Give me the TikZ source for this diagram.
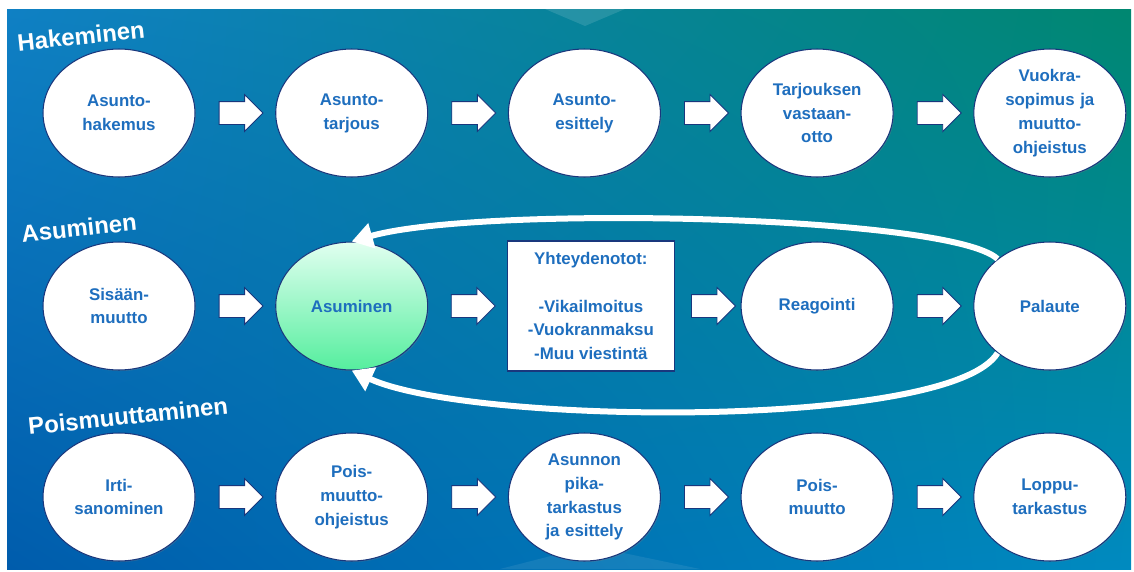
\documentclass[tikz,border=0pt]{standalone}
\usepackage{fontspec}
\setmainfont{Liberation Sans}
\usetikzlibrary{positioning,shapes.geometric,shapes.arrows,arrows.meta,calc,shadows,shadings}
\definecolor{asutxt}{RGB}{30,110,190}
\definecolor{asuline}{RGB}{25,55,125}
\definecolor{bgUL}{RGB}{15,128,196}
\definecolor{bgUR}{RGB}{0,135,112}
\definecolor{bgLL}{RGB}{0,92,172}
\definecolor{bgLR}{RGB}{0,138,192}
\definecolor{asuTop}{RGB}{225,255,240}
\definecolor{asuBot}{RGB}{85,238,158}
\tikzset{
  vaihe/.style={ellipse,draw=asuline,line width=0.6pt,fill=white,
    minimum width=3.04cm,minimum height=2.56cm,inner sep=0pt,text width=1.95cm,
    align=center,text=asutxt,font=\bfseries\fontsize{9.6}{13.6}\selectfont,
    drop shadow={opacity=0.3,shadow xshift=0.6pt,shadow yshift=-0.6pt}},
  laatikko/.style={rectangle,draw=asuline,line width=0.6pt,fill=white,
    minimum width=3.34cm,minimum height=2.6cm,inner sep=0pt,align=center,
    text=asutxt,font=\bfseries\fontsize{9.6}{13.6}\selectfont},
  nuoli/.style={single arrow,draw=asuline,line width=0.5pt,fill=white,
    minimum height=0.88cm,inner sep=0pt,inner ysep=0.22cm,
    single arrow head extend=0.14cm,single arrow tip angle=90},
  otsikko/.style={text=white,font=\bfseries\fontsize{13.6}{16}\selectfont,rotate=6,inner sep=0pt},
  paluu/.style={draw=white,line width=0.12cm,-{Triangle[length=0.42cm,width=0.5cm]}}
}
\begin{document}
\begin{tikzpicture}[x=0.02cm,y=-0.02cm,node distance=4.655cm]
\useasboundingbox (0,0) rectangle (1134,572);
\fill[white] (0,0) rectangle (1134,572);
\shade[upper left=bgUL,upper right=bgUR,lower left=bgLL,lower right=bgLR] (7,9) rectangle (1131,569);
\fill[white,opacity=0.12] (545,9) -- (585,26) -- (625,9) -- cycle;
\fill[white,opacity=0.08] (500,569) -- (590,546) -- (700,569) -- cycle;
% hakeminen
\node[otsikko](T1) at (81,36){Hakeminen};
\node[vaihe](H1) at (119,113){Asunto-\\hakemus};
\node[vaihe,right of = H1](H2){Asunto-\\tarjous};
\node[vaihe,right of = H2](H3){Asunto-\\esittely};
\node[vaihe,right of = H3](H4){Tarjouksen\\vastaan-\\otto};
\node[vaihe,right of = H4](H5){Vuokra-\\sopimus ja\\muutto-\\ohjeistus};
% asuminen
\node[otsikko](T2) at (79,228){Asuminen};
\node[vaihe](A1) at (119,306){Sisään-\\muutto};
\node[vaihe,right of = A1,top color=asuTop,bottom color=asuBot](A2){Asuminen};
\node[laatikko,right of = A2,xshift=0.13cm](A3){Yhteydenotot:\\[13.6pt]-Vikailmoitus\\-Vuokranmaksu\\-Muu viestintä};
\node[vaihe,right of = A3,xshift=-0.13cm](A4){Reagointi};
\node[vaihe,right of = A4](A5){Palaute};
% poismuuttaminen
\node[otsikko](T3) at (128,416){Poismuuttaminen};
\node[vaihe](P1) at (119,497){Irti-\\sanominen};
\node[vaihe,right of = P1](P2){Pois-\\muutto-\\ohjeistus};
\node[vaihe,right of = P2](P3){Asunnon\\pika-\\tarkastus\\ja esittely};
\node[vaihe,right of = P3](P4){Pois-\\muutto};
\node[vaihe,right of = P4](P5){Loppu-\\tarkastus};
\foreach \r in {H,A,P}{
  \foreach \i [count=\j from 2] in {1,...,4}{
    \node[nuoli](\r\i\j) at ($(\r\i.east)!0.5!(\r\j.west)$){};
  }
}
\draw[paluu] (A5.138) .. controls (950,215) and (480,205) .. (A2.north);
\draw[paluu] (A5.222) .. controls (950,430) and (470,425) .. (A2.south);
\end{tikzpicture}
\end{document}
